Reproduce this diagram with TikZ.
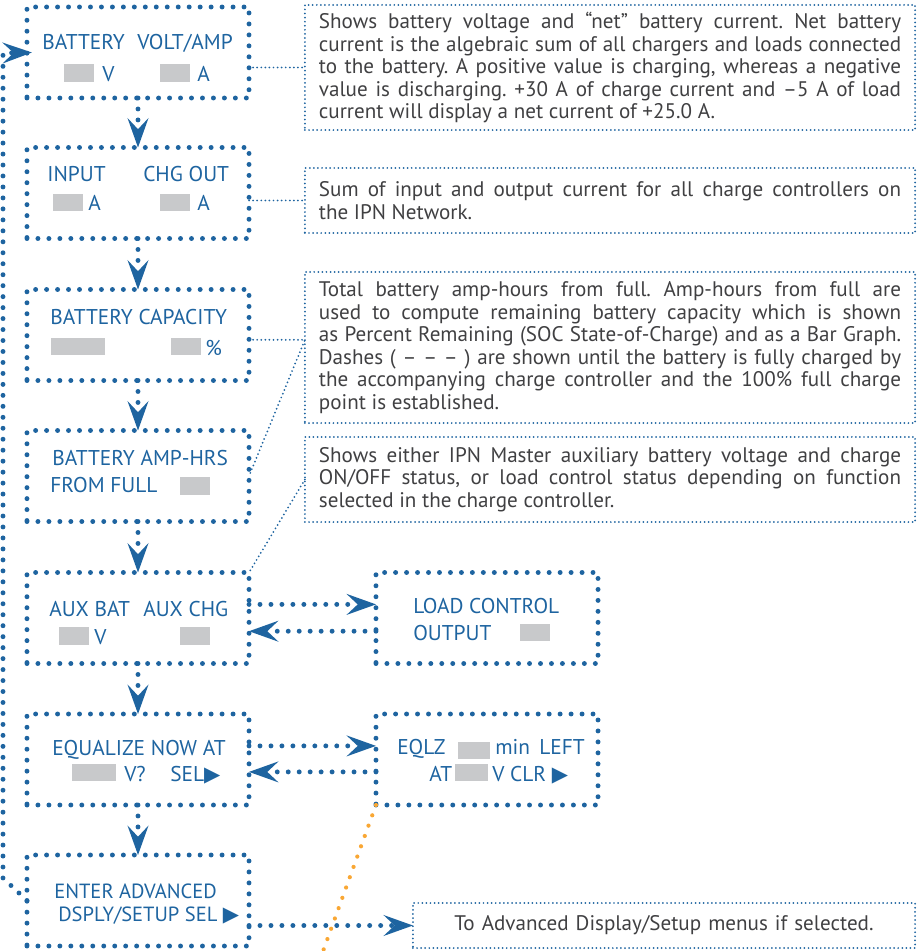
\documentclass[tikz,border=0pt]{standalone}
\usepackage{fontspec}
\setmainfont{PT Sans}
\newfontfamily\symfont{DejaVu Sans}
\usetikzlibrary{arrows.meta}
\frenchspacing

\definecolor{lcdblue}{RGB}{30,100,160}
\definecolor{seggrey}{RGB}{200,201,203}
\definecolor{notegrey}{RGB}{64,64,66}
\definecolor{tailorange}{RGB}{249,167,52}

\newcommand{\selarrow}{{\symfont\fontsize{15}{15}\selectfont ▶}}

\begin{document}
\begin{tikzpicture}[x=0.025cm, y=-0.025cm,
    lcd/.style={draw=lcdblue, line width=3.5pt, dash pattern=on 0pt off 7.8pt, line cap=round,
        minimum width=5.55cm, minimum height=2.275cm, inner sep=0pt, outer sep=0pt},
    seg/.style={fill=seggrey, minimum width=0.75cm, minimum height=0.43cm, inner sep=0pt},
    lbl/.style={text=lcdblue, font=\fontsize{15.2}{17}\selectfont, anchor=base west, inner sep=0pt},
    note/.style={draw=lcdblue, line width=1.4pt, dash pattern=on 0pt off 2.9pt, line cap=round,
        text=notegrey, font=\fontsize{15}{16}\selectfont, text width=14.55cm, align=justify,
        inner xsep=0.35cm, inner ysep=0pt, outer sep=0pt},
    link/.style={draw=lcdblue, line width=1.4pt, dash pattern=on 0pt off 2.9pt, line cap=round},
    flow/.style={draw=lcdblue, line width=3.5pt, dash pattern=on 0pt off 7.8pt, line cap=round,
        -{Stealth[length=21pt, width=15pt, inset=8pt, line width=0pt]}},
    tail/.style={draw=tailorange, line width=3pt, dash pattern=on 0pt off 7.8pt, line cap=round}]
    \useasboundingbox (0,0) rectangle (920,951);

    % display screens, left column
    \node[lcd] (batt) at (138,52.5) {};
    \node[lcd] (input) at (138,193) {};
    \node[lcd] (cap) at (138,335) {};
    \node[lcd] (ahrs) at (138,476) {};
    \node[lcd] (aux) at (138,618) {};
    \node[lcd] (equal) at (138,759.5) {};
    \node[lcd] (adv) at (138,900.5) {};
    % display screens, right column
    \node[lcd] (load) at (487,618) {};
    \node[lcd] (eqlzt) at (487,759.5) {};

    % screen contents
    \node[lbl] (batt-a) at (42,50) {BATTERY};
    \node[lbl] (batt-b) at (137,50) {VOLT/AMP};
    \node[seg] (batt-v) at (79,73) {};
    \node[lbl] (batt-vu) at (102,82) {V};
    \node[seg] (batt-i) at (175,73) {};
    \node[lbl] (batt-iu) at (197,82) {A};

    \node[lbl] (input-a) at (47,182) {INPUT};
    \node[lbl] (input-b) at (143,182) {CHG OUT};
    \node[seg] (input-i) at (68,202.5) {};
    \node[lbl] (input-iu) at (88,211) {A};
    \node[seg] (input-o) at (175,202.5) {};
    \node[lbl] (input-ou) at (197,211) {A};

    \node[lbl] (cap-a) at (50,324) {BATTERY CAPACITY};
    \node[seg, minimum width=1.35cm] (cap-bar) at (78,346.5) {};
    \node[seg] (cap-p) at (186,346.5) {};
    \node[lbl] (cap-pu) at (205,355) {\%};

    \node[lbl] (ahrs-a) at (52,465) {BATTERY AMP-HRS};
    \node[lbl] (ahrs-b) at (50,492) {FROM FULL};
    \node[seg] (ahrs-v) at (195,486) {};

    \node[lbl] (aux-a) at (49,616) {AUX BAT};
    \node[lbl] (aux-b) at (143,616) {AUX CHG};
    \node[seg] (aux-v) at (74,636) {};
    \node[lbl] (aux-vu) at (94,644) {V};
    \node[seg] (aux-c) at (195,636) {};

    \node[lbl] (equal-a) at (52,755) {EQUALIZE NOW AT};
    \node[seg, minimum width=1.1cm] (equal-v) at (94,772.5) {};
    \node[lbl] (equal-vu) at (124,781) {V?};
    \node[lbl] (equal-s) at (170,781) {SEL\selarrow};

    \node[lbl, font=\fontsize{14.6}{16}\selectfont] (adv-a) at (54,898) {ENTER ADVANCED};
    \node[lbl, font=\fontsize{14.6}{16}\selectfont] (adv-b) at (58,921) {DSPLY/SETUP SEL \selarrow};

    \node[lbl] (load-a) at (413,613) {LOAD CONTROL};
    \node[lbl] (load-b) at (413,640) {OUTPUT};
    \node[seg] (load-o) at (535,632.5) {};

    \node[lbl] (eqlzt-a) at (397,754) {EQLZ};
    \node[seg, minimum width=0.8cm] (eqlzt-m) at (474,750.5) {};
    \node[lbl] (eqlzt-mu) at (495,754) {min};
    \node[lbl] (eqlzt-l) at (539,754) {LEFT};
    \node[lbl] (eqlzt-b) at (429,781) {AT};
    \node[seg, minimum width=0.83cm] (eqlzt-v) at (471.5,772.5) {};
    \node[lbl] (eqlzt-c) at (492,781) {V CLR \selarrow};

    % explanations
    \node[note, minimum height=3.125cm] (note1) at (610,67.5) {Shows battery voltage and ``net'' battery current. Net battery\linebreak current is the algebraic sum of all chargers and loads connected\linebreak to the battery. A positive value is charging, whereas a negative\linebreak value is discharging. +30~A of charge current and --5~A of load\linebreak current will display a net current of +25.0~A.};
    \node[note, minimum height=1.625cm] (note2) at (610,200.5) {Sum of input and output current for all charge controllers on\linebreak the IPN Network.};
    \node[note, minimum height=3.775cm] (note3) at (610,347.5) {Total battery amp-hours from full. Amp-hours from full are\linebreak used to compute remaining battery capacity which is shown\linebreak as Percent Remaining (SOC State-of-Charge) and as a Bar Graph.\linebreak Dashes ( -- -- -- ) are shown until the battery is fully charged by\linebreak the accompanying charge controller and the 100\% full charge\linebreak point is established.};
    \node[note, minimum height=2.125cm] (note4) at (610,479.5) {Shows either IPN Master auxiliary battery voltage and charge\linebreak ON/OFF status, or load control status depending on function\linebreak selected in the charge controller.};
    \node[note, minimum height=1.125cm, text width=11.85cm, align=center] (note5) at (664,925.5) {To Advanced Display/Setup menus if selected.};

    % menu flow
    \draw[flow] (batt) -- (input);
    \draw[flow] (input) -- (cap);
    \draw[flow] (cap) -- (ahrs);
    \draw[flow] (ahrs) -- (aux);
    \draw[flow] (aux) -- (equal);
    \draw[flow] (equal) -- (adv);
    \draw[flow] (adv.west) -- (3,878) -- (3,53) -- ([xshift=3.5pt]batt.west);
    \draw[flow] ([yshift=0.34cm]aux.east) -- ([yshift=0.34cm]load.west);
    \draw[flow] ([yshift=-0.33cm]load.west) -- ([yshift=-0.33cm]aux.east);
    \draw[flow] ([yshift=0.34cm]equal.east) -- ([yshift=0.34cm]eqlzt.west);
    \draw[flow] ([yshift=-0.31cm]eqlzt.west) -- ([yshift=-0.31cm]equal.east);
    \draw[flow] (adv.east |- note5.west) -- (note5.west);

    % leaders to the explanations
    \draw[link] (batt.east |- note1.west) -- (note1.west);
    \draw[link] (input.east |- note2.west) -- (note2.west);
    \draw[link] ([yshift=-0.12cm]cap.east) -- ([yshift=-0.12cm]note3.west |- cap.east) -- (ahrs.east);
    \draw[link] (note4.west) -- (aux.north east);

    \coordinate (tailend) at (318,965);
    \draw[tail] (eqlzt.south west) -- (tailend);
\end{tikzpicture}
\end{document}
